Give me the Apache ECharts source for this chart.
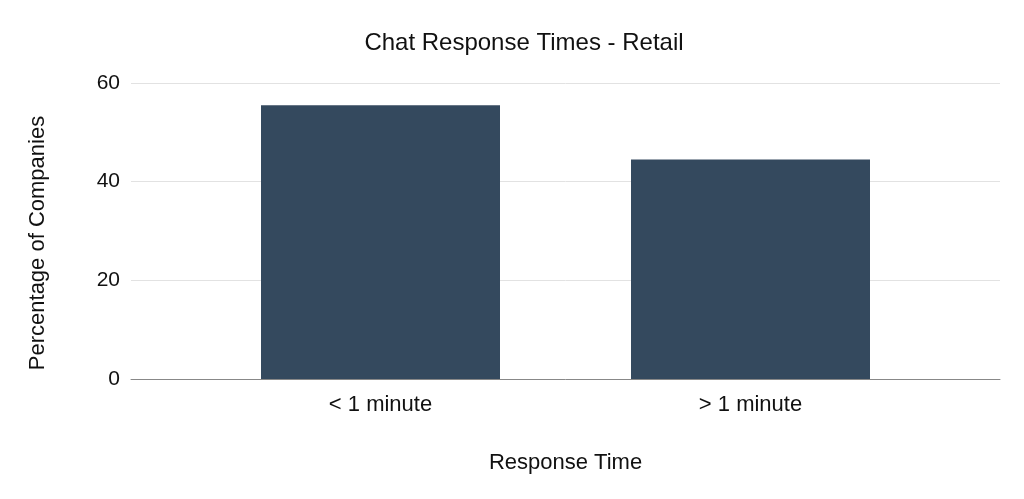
<!DOCTYPE html>
<html><head><meta charset="utf-8">
<script src="https://cdn.jsdelivr.net/npm/echarts@6/dist/echarts.min.js"></script>
<style>html,body{margin:0;padding:0;background:#fff}#c{width:1024px;height:499px}</style>
</head><body><div id="c"></div>
<script>
const categories = ['< 1 minute', '> 1 minute'];
const percentages = [55.5, 44.5];
const yTicks = [0, 20, 40, 60];

const font = 'Liberation Sans, Arial, sans-serif';
const chart = echarts.init(document.getElementById('c'));
chart.setOption({
  animation: false,
  title: {
    text: 'Chat Response Times - Retail', left: 519, top: 26, textAlign: 'center',
    textStyle: { fontFamily: font, fontSize: 24, fontWeight: 'normal', color: '#111' }
  },
  grid: [
    { left: 131, right: 24, top: 83, bottom: 120 },
    { left: 195.5, right: 88.5, top: 83, bottom: 120 }
  ],
  xAxis: [
    { type: 'category', gridIndex: 0, data: categories, show: true,
      axisLine: { lineStyle: { color: '#888' } }, axisTick: { show: false },
      axisLabel: { show: false } },
    { type: 'category', gridIndex: 1, data: categories,
      axisLine: { show: false }, axisTick: { show: false },
      axisLabel: { fontFamily: font, fontSize: 22, color: '#111', margin: 15 },
      name: 'Response Time', nameLocation: 'middle', nameGap: 73,
      nameTextStyle: { fontFamily: font, fontSize: 22, color: '#111' } }
  ],
  yAxis: [
    { type: 'value', gridIndex: 0, min: yTicks[0], max: yTicks[yTicks.length - 1], interval: 20,
      axisLine: { show: false }, axisTick: { show: false },
      axisLabel: { fontFamily: font, fontSize: 21, color: '#111', margin: 11 },
      splitLine: { lineStyle: { color: '#e2e2e2' } },
      name: 'Percentage of Companies', nameLocation: 'middle', nameGap: 82,
      nameTextStyle: { fontFamily: font, fontSize: 22, color: '#111', padding: [0, 24, 0, 0] } },
    { type: 'value', gridIndex: 1, min: yTicks[0], max: yTicks[yTicks.length - 1], interval: 20, show: false }
  ],
  series: [{
    type: 'bar', xAxisIndex: 1, yAxisIndex: 1, data: percentages,
    barWidth: 239,
    itemStyle: { color: '#34495e' }
  }]
});
</script></body></html>
